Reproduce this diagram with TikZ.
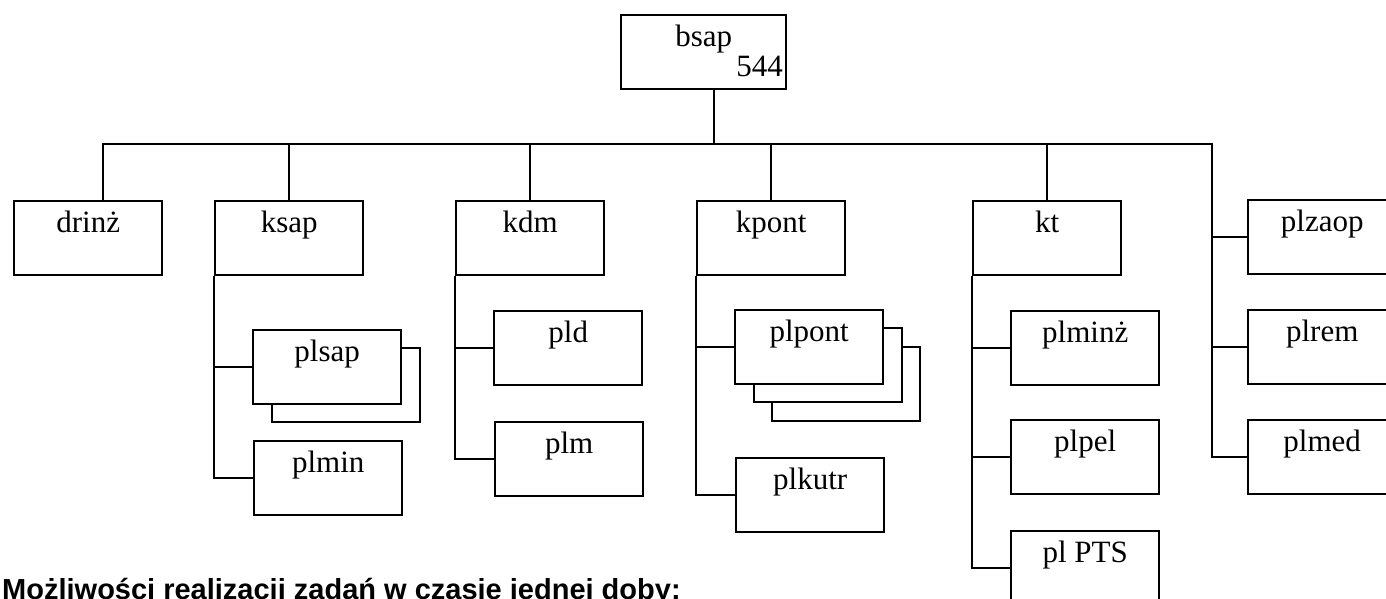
\documentclass[tikz,border=0pt]{standalone}
\usepackage{fontspec}
\setmainfont{Liberation Serif}
\newfontfamily\headfont{Liberation Sans}
\usetikzlibrary{shadows}
\tikzset{
	unit/.style={draw, fill=white, line width=2.4pt, inner sep=0pt, minimum width=148pt,
		text height=31pt, text depth=43pt, anchor=north west, font=\fontsize{31}{31}\selectfont},
	stack/.style={copy shadow={shadow xshift=19pt, shadow yshift=-18pt}},
	stackk/.style={copy shadow={shadow xshift=37pt, shadow yshift=-37pt}, stack},
	link/.style={line width=2.4pt}
}
\begin{document}
\begin{tikzpicture}[x=1pt,y=-1pt]
	\useasboundingbox (0,0) rectangle (1386,599);
	\node[unit, minimum width=165pt] (bsap) at (620,14) {bsap};
	\node[anchor=base east, inner sep=0pt, font=\fontsize{31}{31}\selectfont] (bsapnum) at (783,77) {544};
	\node[unit] (drinz) at (13,200) {drinż};
	\node[unit] (ksap) at (214,200) {ksap};
	\node[unit] (kdm) at (455,200) {kdm};
	\node[unit] (kpont) at (696,200) {kpont};
	\node[unit] (kt) at (972,200) {kt};
	\node[unit] (plzaop) at (1247,199) {plzaop};
	\node[unit, stack] (plsap) at (252,329) {plsap};
	\node[unit] (plmin) at (253,440) {plmin};
	\node[unit] (pld) at (493,310) {pld};
	\node[unit] (plm) at (494,421) {plm};
	\node[unit, stackk] (plpont) at (734,309) {plpont};
	\node[unit] (plkutr) at (735,457) {plkutr};
	\node[unit] (plminz) at (1010,310) {plminż};
	\node[unit] (plpel) at (1010,419) {plpel};
	\node[unit] (plpts) at (1010,530) {pl PTS};
	\node[unit] (plrem) at (1247,309) {plrem};
	\node[unit] (plmed) at (1247,419) {plmed};
	\coordinate (hub) at (714,144);
	\coordinate (busL) at (103,144);
	\coordinate (busR) at (1212,144);
	\draw[link] (bsap.south -| hub) -- (hub);
	\draw[link] (drinz.north -| busL) -- (busL) -- (busR) -- (busR |- plmed.west) -- (plmed.west);
	\foreach \k in {ksap,kdm,kpont,kt}
		\draw[link] (\k.north) -- (\k.north |- hub);
	\foreach \k/\c in {ksap/plsap,ksap/plmin,kdm/pld,kdm/plm,kpont/plpont,kpont/plkutr,kt/plminz,kt/plpel,kt/plpts}
		\draw[link] (\k.south west) |- (\c.west);
	\foreach \c in {plzaop,plrem}
		\draw[link] (busR |- \c.west) -- (\c.west);
	\node[anchor=base west, inner sep=0pt, font=\headfont\bfseries\fontsize{29}{29}\selectfont] (caption) at (2,599) {Możliwości realizacji zadań w czasie jednej doby:};
\end{tikzpicture}
\end{document}
